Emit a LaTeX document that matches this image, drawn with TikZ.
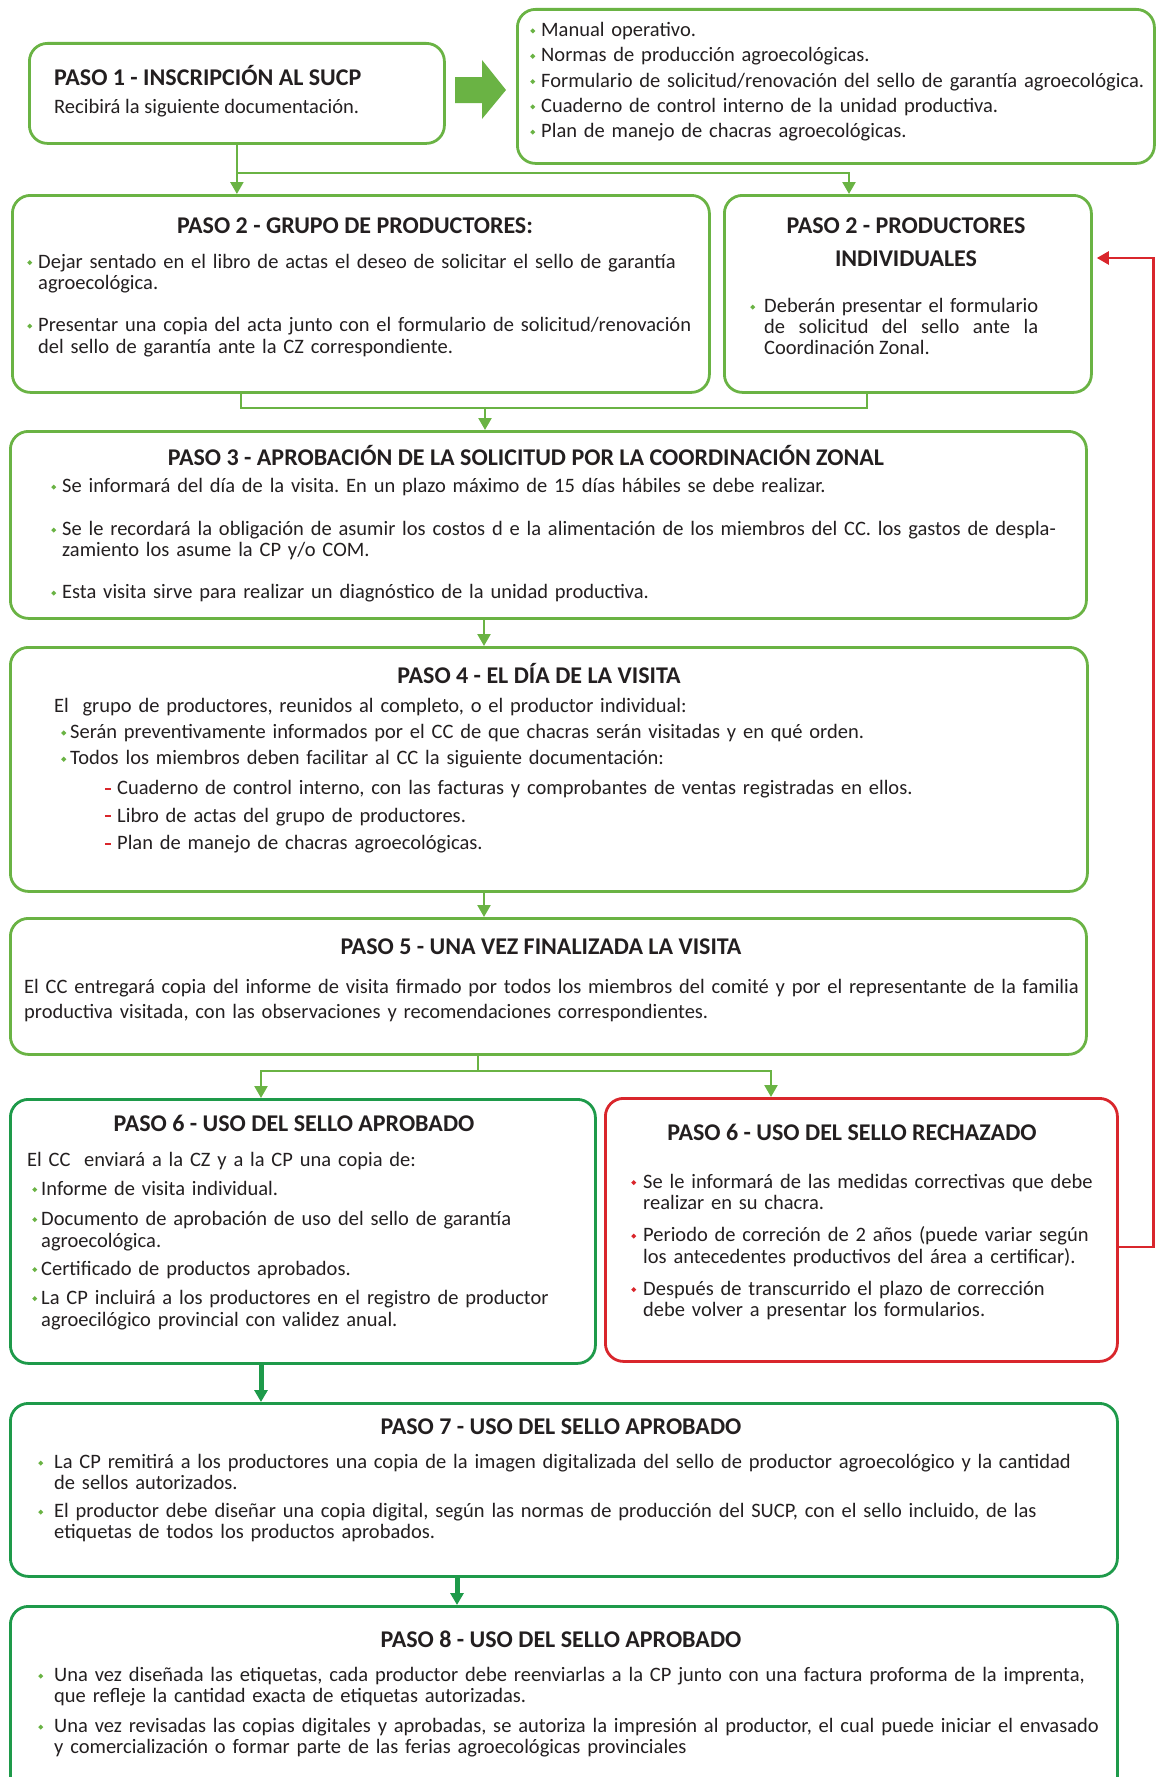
\documentclass[tikz,border=0pt]{standalone}
\usepackage{fontspec}
\setmainfont{Carlito}
\usetikzlibrary{arrows.meta}
\definecolor{lgreen}{HTML}{6AB344}
\definecolor{dgreen}{HTML}{1E9A4A}
\definecolor{rred}{HTML}{D9262C}
\definecolor{ink}{HTML}{231F20}
\newlength{\bulw}
\setlength{\bulw}{11pt}
\frenchspacing
\newcommand{\fs}{\rule{0pt}{16pt}}
\newcommand{\dia}[1]{\textcolor{#1}{\raisebox{3pt}{\rotatebox{45}{\rule{3.6pt}{3.6pt}}}}}
\newcommand{\gi}[2][lgreen]{\par\hangindent=\bulw\hangafter=1\noindent\makebox[\bulw][l]{\dia{#1}}#2}
\newcommand{\di}[1]{\par\hangindent=\bulw\hangafter=1\noindent\makebox[\bulw][l]{\textcolor{rred}{\rule[5pt]{6pt}{2.2pt}}}#1}
\newcommand{\gap}[1]{\par\vspace{#1pt}}
\newcommand{\lsk}[1]{\fontsize{20.5}{#1}\selectfont\lineskiplimit=-100pt\hyphenpenalty=10000\exhyphenpenalty=10000}
\newcommand{\txfont}{\fontsize{20.5}{22}\selectfont}
\newcommand{\hdfont}{\fontsize{24}{26}\selectfont\bfseries}
\tikzset{
  gbox/.style={draw=lgreen, line width=2.8pt, rounded corners=18pt, anchor=north west, inner sep=0pt},
  dbox/.style={gbox, draw=dgreen},
  rbox/.style={gbox, draw=rred},
  hd/.style={inner sep=0pt, font=\hdfont, text=ink, anchor=base},
  tx/.style={inner sep=0pt, font=\txfont, text=ink, anchor=north west, align=left},
  gline/.style={draw=lgreen, line width=2.4pt},
  garr/.style={gline, -{Triangle[length=12pt,width=13pt]}},
  rarr/.style={draw=rred, line width=2.4pt, -{Triangle[length=12pt,width=13pt]}, shorten >=4pt},
  tarr/.style={draw=dgreen, line width=5pt, -{Triangle[length=12pt,width=13pt]}}
}
\begin{document}
\begin{tikzpicture}[x=1pt, y=-1pt]
  \useasboundingbox (0,0) rectangle (1156,1777);
  % paso 1
  \node[gbox, minimum width=415pt, minimum height=100pt] (p1) at (28,42) {};
  \node[hd, anchor=base west] (p1h) at (54,85) {PASO 1 - INSCRIPCIÓN AL SUCP};
  \node[tx, anchor=base west] (p1b) at (54,113) {Recibirá la siguiente documentación.};
  \fill[lgreen] (455,77) -- (482,77) -- (482,60) -- (506,90) -- (482,119) -- (482,103) -- (455,103) -- cycle;
  \node[gbox, minimum width=637pt, minimum height=154pt] (docs) at (516,8) {};
  \node[tx, text width=660pt] (docsb) at (530,11) {\lsk{25.3}%
    \gi{\fs Manual operativo.}
    \gi{Normas de producción agroecológicas.}
    \gi{Formulario de solicitud/renovación del sello de garantía agroecológica.}
    \gi{Cuaderno de control interno de la unidad productiva.}
    \gi{Plan de manejo de chacras agroecológicas.}\par};
  % paso 2
  \node[gbox, minimum width=697pt, minimum height=197pt] (p2g) at (11,194) {};
  \node[hd] (p2gh) at (355,233) {PASO 2 - GRUPO DE PRODUCTORES:};
  \node[tx, text width=720pt] (p2gb) at (27,246.5) {\lsk{21.5}%
    \gi{\fs Dejar sentado en el libro de actas el deseo de solicitar el sello de garantía\newline agroecológica.}\gap{20.5}
    \gi{Presentar una copia del acta junto con el formulario de solicitud/renovación\newline del sello de garantía ante la CZ correspondiente.}\par};
  \node[gbox, minimum width=367pt, minimum height=197pt] (p2i) at (723,194) {};
  \node[hd] (p2ih) at (906,233) {PASO 2 - PRODUCTORES};
  \node[hd] (p2ih2) at (906,266) {INDIVIDUALES};
  \node[tx, text width=288pt, align=justify] (p2ib) at (750,291.5) {\setlength{\bulw}{14pt}\lsk{21}%
    \gi{\fs Deberán presentar el formulario\linebreak de solicitud del sello ante la\linebreak Coordinación Zonal.}\par};
  \draw[garr] (p1.south) -- (p1.south |- p2g.north);
  \coordinate (j1) at (236,173);
  \coordinate (j2) at (849,194);
  \draw[garr] (j1) -| (j2);
  % paso 3
  \node[gbox, minimum width=1076pt, minimum height=187pt] (p3) at (9,430) {};
  \node[hd] (p3h) at (526,465) {PASO 3 - APROBACIÓN DE LA SOLICITUD POR LA COORDINACIÓN ZONAL};
  \node[tx, text width=1060pt] (p3b) at (51,471.5) {\lsk{21}%
    \gi{\fs Se informará del día de la visita. En un plazo máximo de 15 días hábiles se debe realizar.}\gap{22}
    \gi{Se le recordará la obligación de asumir los costos d e la alimentación de los miembros del CC. los gastos de despla-\newline zamiento los asume la CP y/o COM.}\gap{21}
    \gi{Esta visita sirve para realizar un diagnóstico de la unidad productiva.}\par};
  \coordinate (k1) at (241,408);
  \coordinate (k2) at (867,408);
  \coordinate (k3) at (485,408);
  \draw[gline] (k1 |- p2g.south) -- (k1) -- (k2) -- (k2 |- p2i.south);
  \draw[garr] (k3) -- (k3 |- p3.north);
  % paso 4
  \node[gbox, minimum width=1077pt, minimum height=244pt] (p4) at (9,646) {};
  \node[hd] (p4h) at (539,683) {PASO 4 - EL DÍA DE LA VISITA};
  \node[tx, text width=1060pt] (p4b) at (54,696) {\lsk{26.3}%
    \noindent\fs El\ \ grupo de productores, reunidos al completo, o el productor individual:\par
    \leftskip=7pt\setlength{\bulw}{9pt}%
    \gi{Serán preventivamente informados por el CC de que chacras serán visitadas y en qué orden.}
    \gi{Todos los miembros deben facilitar al CC la siguiente documentación:}\gap{3.7}
    \leftskip=51pt\setlength{\bulw}{12pt}%
    \di{Cuaderno de control interno, con las facturas y comprobantes de ventas registradas en ellos.}\gap{1.2}
    \di{Libro de actas del grupo de productores.}\gap{1.2}
    \di{Plan de manejo de chacras agroecológicas.}\par};
  \coordinate (cx) at (484,0);
  \draw[garr] (cx |- p3.south) -- (cx |- p4.north);
  % paso 5
  \node[gbox, minimum width=1076pt, minimum height=136pt] (p5) at (9,917) {};
  \node[hd] (p5h) at (541,954) {PASO 5 - UNA VEZ FINALIZADA LA VISITA};
  \node[tx, text width=1100pt] (p5b) at (24,977) {\lsk{25}%
    \noindent\fs El CC entregará copia del informe de visita firmado por todos los miembros del comité y por el representante de la familia\newline productiva visitada, con las observaciones y recomendaciones correspondientes.\par};
  \draw[garr] (cx |- p4.south) -- (cx |- p5.north);
  % paso 6
  \node[dbox, minimum width=585pt, minimum height=264pt] (p6a) at (9,1098) {};
  \node[hd] (p6ah) at (294,1131) {PASO 6 - USO DEL SELLO APROBADO};
  \node[tx, text width=600pt] (p6ab) at (27,1150) {\lsk{22}%
    \noindent\fs El CC\ \ enviará a la CZ y a la CP una copia de:\gap{7}
    \leftskip=5pt\setlength{\bulw}{9pt}%
    \gi{Informe de visita individual.}\gap{8}
    \gi{Documento de aprobación de uso del sello de garantía\newline agroecológica.}\gap{6}
    \gi{Certificado de productos aprobados.}\gap{7}
    \gi{La CP incluirá a los productores en el registro de productor\newline agroecilógico provincial con validez anual.}\par};
  \node[rbox, minimum width=512pt, minimum height=263pt] (p6r) at (604,1097) {};
  \node[hd] (p6rh) at (852,1140) {PASO 6 - USO DEL SELLO RECHAZADO};
  \node[tx, text width=520pt] (p6rb) at (631,1166.5) {\setlength{\bulw}{12pt}\lsk{21.5}%
    \gi[rred]{\fs Se le informará de las medidas correctivas que debe\newline realizar en su chacra.}\gap{10.5}
    \gi[rred]{Periodo de correción de 2 años (puede variar según\newline los antecedentes productivos del área a certificar).}\gap{10.5}
    \gi[rred]{Después de transcurrido el plazo de corrección\newline debe volver a presentar los formularios.}\par};
  \coordinate (m0) at (478,1071);
  \coordinate (m1) at (261,1071);
  \coordinate (m2) at (771,1071);
  \draw[gline] (m0 |- p5.south) -- (m0);
  \draw[garr] (m0) -- (m1) -- (m1 |- p6a.north);
  \draw[garr] (m0) -- (m2) -- (m2 |- p6r.north);
  \coordinate (r1) at (1153.5,1247);
  \coordinate (r2) at (1153.5,258);
  \draw[rarr] (p6r.east |- r1) -- (r1) -- (r2) -- (r2 -| p2i.east);
  % paso 7
  \node[dbox, minimum width=1107pt, minimum height=173pt] (p7) at (9,1402) {};
  \node[hd] (p7h) at (561,1434) {PASO 7 - USO DEL SELLO APROBADO};
  \node[tx, text width=1110pt] (p7b) at (38,1447.5) {\setlength{\bulw}{16pt}\lsk{21}%
    \gi{\fs La CP remitirá a los productores una copia de la imagen digitalizada del sello de productor agroecológico y la cantidad\newline de sellos autorizados.}\gap{7}
    \gi{El productor debe diseñar una copia digital, según las normas de producción del SUCP, con el sello incluido, de las\newline etiquetas de todos los productos aprobados.}\par};
  \coordinate (t1) at (261,0);
  \draw[tarr] (t1 |- p6a.south) -- (t1 |- p7.north);
  % paso 8
  \node[dbox, minimum width=1107pt, minimum height=200pt] (p8) at (9,1605) {};
  \node[hd] (p8h) at (561,1647) {PASO 8 - USO DEL SELLO APROBADO};
  \node[tx, text width=1110pt] (p8b) at (38,1660.5) {\setlength{\bulw}{16pt}\lsk{21}%
    \gi{\fs Una vez diseñada las etiquetas, cada productor debe reenviarlas a la CP junto con una factura proforma de la imprenta,\newline que refleje la cantidad exacta de etiquetas autorizadas.}\gap{9}
    \gi{Una vez revisadas las copias digitales y aprobadas, se autoriza la impresión al productor, el cual puede iniciar el envasado\newline y comercialización o formar parte de las ferias agroecológicas provinciales}\par};
  \coordinate (t2) at (457,0);
  \draw[tarr] (t2 |- p7.south) -- (t2 |- p8.north);
\end{tikzpicture}
\end{document}
